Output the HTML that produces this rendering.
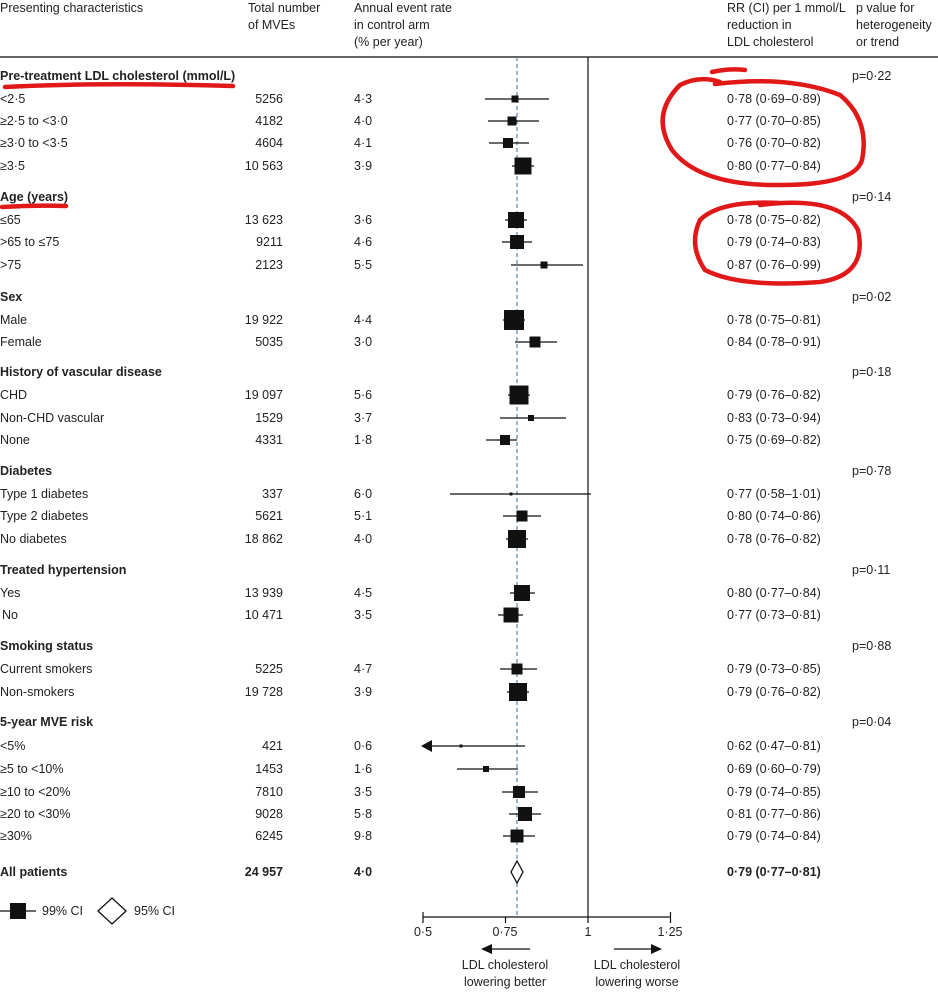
<!DOCTYPE html><html><head><meta charset="utf-8"><style>body{margin:0;background:#fff}svg text{font-family:"Liberation Sans",sans-serif;font-size:12.5px;fill:#222}</style></head><body>
<svg width="938" height="990" viewBox="0 0 938 990" xmlns="http://www.w3.org/2000/svg">
<g>
<text x="0" y="12">Presenting characteristics</text>
<text x="248" y="12">Total number</text><text x="248" y="29">of MVEs</text>
<text x="354" y="12">Annual event rate</text><text x="354" y="29">in control arm</text><text x="354" y="46">(% per year)</text>
<text x="727" y="12">RR (CI) per 1 mmol/L</text><text x="727" y="29">reduction in</text><text x="727" y="46">LDL cholesterol</text>
<text x="856" y="12">p value for</text><text x="856" y="29">heterogeneity</text><text x="856" y="46">or trend</text>
</g>
<line x1="0" y1="57" x2="938" y2="57" stroke="#333" stroke-width="1.5"/>
<line x1="588" y1="57" x2="588" y2="917" stroke="#111" stroke-width="1.2"/>
<line x1="517" y1="57" x2="517" y2="917" stroke="#6a8aa6" stroke-width="1.3" stroke-dasharray="4,3"/>
<g font-weight="bold">
<text x="0" y="80" style="font-weight:bold">Pre-treatment LDL cholesterol (mmol/L)</text>
<text x="0" y="201" style="font-weight:bold">Age (years)</text>
<text x="0" y="301" style="font-weight:bold">Sex</text>
<text x="0" y="376" style="font-weight:bold">History of vascular disease</text>
<text x="0" y="475" style="font-weight:bold">Diabetes</text>
<text x="0" y="574" style="font-weight:bold">Treated hypertension</text>
<text x="0" y="650" style="font-weight:bold">Smoking status</text>
<text x="0" y="726" style="font-weight:bold">5-year MVE risk</text>
<text x="0" y="876" style="font-weight:bold">All patients</text>
<text x="283" y="876" text-anchor="end" style="font-weight:bold">24 957</text>
<text x="354" y="876" style="font-weight:bold">4·0</text>
<text x="727" y="876" style="font-weight:bold">0·79 (0·77–0·81)</text>
</g>
<g>
<text x="852" y="80">p=0·22</text><text x="852" y="201">p=0·14</text><text x="852" y="301">p=0·02</text><text x="852" y="376">p=0·18</text><text x="852" y="475">p=0·78</text><text x="852" y="574">p=0·11</text><text x="852" y="650">p=0·88</text><text x="852" y="726">p=0·04</text>
</g>
<g id="rows">
<!-- label,num,rate,rr,y,lo,hi,x,size -->
<text x="0" y="103">&lt;2·5</text><text x="283" y="103" text-anchor="end">5256</text><text x="354" y="103">4·3</text><text x="727" y="103">0·78 (0·69–0·89)</text>
<line x1="485" y1="99" x2="549" y2="99" stroke="#111" stroke-width="1.3"/><rect x="511.5" y="95.5" width="7" height="7" fill="#111"/>
<text x="0" y="125">≥2·5 to &lt;3·0</text><text x="283" y="125" text-anchor="end">4182</text><text x="354" y="125">4·0</text><text x="727" y="125">0·77 (0·70–0·85)</text>
<line x1="488" y1="121" x2="539" y2="121" stroke="#111" stroke-width="1.3"/><rect x="507.5" y="116.5" width="9" height="9" fill="#111"/>
<text x="0" y="147">≥3·0 to &lt;3·5</text><text x="283" y="147" text-anchor="end">4604</text><text x="354" y="147">4·1</text><text x="727" y="147">0·76 (0·70–0·82)</text>
<line x1="489" y1="143" x2="529" y2="143" stroke="#111" stroke-width="1.3"/><rect x="503" y="138" width="10" height="10" fill="#111"/>
<text x="0" y="170">≥3·5</text><text x="283" y="170" text-anchor="end">10 563</text><text x="354" y="170">3·9</text><text x="727" y="170">0·80 (0·77–0·84)</text>
<line x1="512" y1="166" x2="534" y2="166" stroke="#111" stroke-width="1.3"/><rect x="514.5" y="157.5" width="17" height="17" fill="#111"/>

<text x="0" y="224">≤65</text><text x="283" y="224" text-anchor="end">13 623</text><text x="354" y="224">3·6</text><text x="727" y="224">0·78 (0·75–0·82)</text>
<line x1="505" y1="220" x2="527" y2="220" stroke="#111" stroke-width="1.3"/><rect x="508" y="212" width="16" height="16" fill="#111"/>
<text x="0" y="246">&gt;65 to ≤75</text><text x="283" y="246" text-anchor="end">9211</text><text x="354" y="246">4·6</text><text x="727" y="246">0·79 (0·74–0·83)</text>
<line x1="502" y1="242" x2="532" y2="242" stroke="#111" stroke-width="1.3"/><rect x="510" y="235" width="14" height="14" fill="#111"/>
<text x="0" y="269">&gt;75</text><text x="283" y="269" text-anchor="end">2123</text><text x="354" y="269">5·5</text><text x="727" y="269">0·87 (0·76–0·99)</text>
<line x1="511" y1="265" x2="583" y2="265" stroke="#111" stroke-width="1.3"/><rect x="540.5" y="261.5" width="7" height="7" fill="#111"/>

<text x="0" y="324">Male</text><text x="283" y="324" text-anchor="end">19 922</text><text x="354" y="324">4·4</text><text x="727" y="324">0·78 (0·75–0·81)</text>
<line x1="503" y1="320" x2="525" y2="320" stroke="#111" stroke-width="1.3"/><rect x="504" y="310" width="20" height="20" fill="#111"/>
<text x="0" y="346">Female</text><text x="283" y="346" text-anchor="end">5035</text><text x="354" y="346">3·0</text><text x="727" y="346">0·84 (0·78–0·91)</text>
<line x1="515" y1="342" x2="557" y2="342" stroke="#111" stroke-width="1.3"/><rect x="529.5" y="336.5" width="11" height="11" fill="#111"/>

<text x="0" y="399">CHD</text><text x="283" y="399" text-anchor="end">19 097</text><text x="354" y="399">5·6</text><text x="727" y="399">0·79 (0·76–0·82)</text>
<line x1="508" y1="395" x2="530" y2="395" stroke="#111" stroke-width="1.3"/><rect x="509.5" y="385.5" width="19" height="19" fill="#111"/>
<text x="0" y="422">Non-CHD vascular</text><text x="283" y="422" text-anchor="end">1529</text><text x="354" y="422">3·7</text><text x="727" y="422">0·83 (0·73–0·94)</text>
<line x1="500" y1="418" x2="566" y2="418" stroke="#111" stroke-width="1.3"/><rect x="528" y="415" width="6" height="6" fill="#111"/>
<text x="0" y="444">None</text><text x="283" y="444" text-anchor="end">4331</text><text x="354" y="444">1·8</text><text x="727" y="444">0·75 (0·69–0·82)</text>
<line x1="486" y1="440" x2="517" y2="440" stroke="#111" stroke-width="1.3"/><rect x="500" y="435" width="10" height="10" fill="#111"/>

<text x="0" y="498">Type 1 diabetes</text><text x="283" y="498" text-anchor="end">337</text><text x="354" y="498">6·0</text><text x="727" y="498">0·77 (0·58–1·01)</text>
<line x1="450" y1="494" x2="591" y2="494" stroke="#111" stroke-width="1.2"/><rect x="509.5" y="492.5" width="3" height="3" fill="#111"/>
<text x="0" y="520">Type 2 diabetes</text><text x="283" y="520" text-anchor="end">5621</text><text x="354" y="520">5·1</text><text x="727" y="520">0·80 (0·74–0·86)</text>
<line x1="503" y1="516" x2="541" y2="516" stroke="#111" stroke-width="1.3"/><rect x="516.5" y="510.5" width="11" height="11" fill="#111"/>
<text x="0" y="543">No diabetes</text><text x="283" y="543" text-anchor="end">18 862</text><text x="354" y="543">4·0</text><text x="727" y="543">0·78 (0·76–0·82)</text>
<line x1="506" y1="539" x2="528" y2="539" stroke="#111" stroke-width="1.3"/><rect x="508" y="530" width="18" height="18" fill="#111"/>

<text x="0" y="597">Yes</text><text x="283" y="597" text-anchor="end">13 939</text><text x="354" y="597">4·5</text><text x="727" y="597">0·80 (0·77–0·84)</text>
<line x1="510" y1="593" x2="535" y2="593" stroke="#111" stroke-width="1.3"/><rect x="514" y="585" width="16" height="16" fill="#111"/>
<text x="2" y="619">No</text><text x="283" y="619" text-anchor="end">10 471</text><text x="354" y="619">3·5</text><text x="727" y="619">0·77 (0·73–0·81)</text>
<line x1="498" y1="615" x2="523" y2="615" stroke="#111" stroke-width="1.3"/><rect x="503.5" y="607.5" width="15" height="15" fill="#111"/>

<text x="0" y="673">Current smokers</text><text x="283" y="673" text-anchor="end">5225</text><text x="354" y="673">4·7</text><text x="727" y="673">0·79 (0·73–0·85)</text>
<line x1="500" y1="669" x2="537" y2="669" stroke="#111" stroke-width="1.3"/><rect x="511.5" y="663.5" width="11" height="11" fill="#111"/>
<text x="0" y="696">Non-smokers</text><text x="283" y="696" text-anchor="end">19 728</text><text x="354" y="696">3·9</text><text x="727" y="696">0·79 (0·76–0·82)</text>
<line x1="507" y1="692" x2="529" y2="692" stroke="#111" stroke-width="1.3"/><rect x="509" y="683" width="18" height="18" fill="#111"/>

<text x="0" y="750">&lt;5%</text><text x="283" y="750" text-anchor="end">421</text><text x="354" y="750">0·6</text><text x="727" y="750">0·62 (0·47–0·81)</text>
<line x1="428" y1="746" x2="525" y2="746" stroke="#111" stroke-width="1.3"/><polygon points="421,746 432,740 432,752" fill="#111"/><rect x="459.5" y="744.5" width="3" height="3" fill="#111"/>
<text x="0" y="773">≥5 to &lt;10%</text><text x="283" y="773" text-anchor="end">1453</text><text x="354" y="773">1·6</text><text x="727" y="773">0·69 (0·60–0·79)</text>
<line x1="457" y1="769" x2="518" y2="769" stroke="#111" stroke-width="1.3"/><rect x="483" y="766" width="6" height="6" fill="#111"/>
<text x="0" y="796">≥10 to &lt;20%</text><text x="283" y="796" text-anchor="end">7810</text><text x="354" y="796">3·5</text><text x="727" y="796">0·79 (0·74–0·85)</text>
<line x1="502" y1="792" x2="538" y2="792" stroke="#111" stroke-width="1.3"/><rect x="513" y="786" width="12" height="12" fill="#111"/>
<text x="0" y="818">≥20 to &lt;30%</text><text x="283" y="818" text-anchor="end">9028</text><text x="354" y="818">5·8</text><text x="727" y="818">0·81 (0·77–0·86)</text>
<line x1="509" y1="814" x2="541" y2="814" stroke="#111" stroke-width="1.3"/><rect x="518" y="807" width="14" height="14" fill="#111"/>
<text x="0" y="840">≥30%</text><text x="283" y="840" text-anchor="end">6245</text><text x="354" y="840">9·8</text><text x="727" y="840">0·79 (0·74–0·84)</text>
<line x1="503" y1="836" x2="535" y2="836" stroke="#111" stroke-width="1.3"/><rect x="510.5" y="829.5" width="13" height="13" fill="#111"/>
</g>
<polygon points="517,861 523,872 517,883 511,872" fill="#fff" stroke="#111" stroke-width="1.3"/>
<!-- legend -->
<line x1="0" y1="911" x2="36" y2="911" stroke="#111" stroke-width="1.3"/><rect x="10" y="903" width="16" height="16" fill="#111"/>
<text x="42" y="915">99% CI</text>
<polygon points="112,898 126,911 112,924 98,911" fill="#fff" stroke="#111" stroke-width="1.3"/>
<text x="134" y="915">95% CI</text>
<!-- axis -->
<line x1="423" y1="917" x2="671" y2="917" stroke="#111" stroke-width="1.3"/>
<g stroke="#111" stroke-width="1.2"><line x1="423" y1="912" x2="423" y2="923"/><line x1="505.5" y1="917" x2="505.5" y2="923"/><line x1="588" y1="917" x2="588" y2="923"/><line x1="670.5" y1="912" x2="670.5" y2="923"/></g>
<text x="423" y="936" text-anchor="middle">0·5</text><text x="505" y="936" text-anchor="middle">0·75</text><text x="588" y="936" text-anchor="middle">1</text><text x="670" y="936" text-anchor="middle">1·25</text>
<line x1="490" y1="949" x2="530" y2="949" stroke="#111" stroke-width="1.3"/><polygon points="481,949 492,944 492,954" fill="#111"/>
<line x1="614" y1="949" x2="654" y2="949" stroke="#111" stroke-width="1.3"/><polygon points="662,949 651,944 651,954" fill="#111"/>
<text x="505" y="969" text-anchor="middle">LDL cholesterol</text><text x="505" y="986" text-anchor="middle">lowering better</text>
<text x="637" y="969" text-anchor="middle">LDL cholesterol</text><text x="637" y="986" text-anchor="middle">lowering worse</text>
<!-- red annotations -->
<g fill="none" stroke="#e01818" stroke-width="4.5" stroke-linecap="round">
<path d="M5,87 Q100,82 233,86"/>
<path d="M2,207 Q35,205 66,206"/>
<path d="M712,72 Q730,68 745,70 M715,84 Q790,75 840,95 Q870,120 862,160 Q855,185 780,185 Q700,186 672,150 Q650,115 680,85 Q700,75 720,82"/>
<path d="M760,205 Q840,195 858,230 Q868,275 820,282 Q740,288 705,270 Q688,245 700,220 Q720,200 780,203"/>
</g>
</svg>
</body></html>
